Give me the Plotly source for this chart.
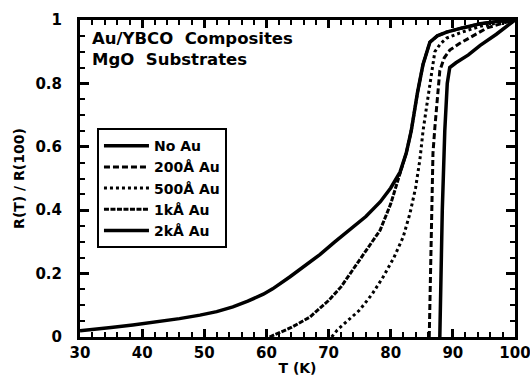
import plotly.graph_objects as go

# ---- data ----
no_au_T = [30, 32, 35, 38.5, 42, 46, 49.3, 52, 54.6, 57, 59.5, 61, 63.8, 66, 68.6, 71, 73.4, 76, 78.3, 80, 81.5, 82.5, 83.3, 84.3, 85.2, 86.3, 87.5, 89, 91.5, 94.4, 97, 100]
no_au_R = [0.02, 0.025, 0.03, 0.038, 0.047, 0.058, 0.069, 0.08, 0.095, 0.113, 0.135, 0.152, 0.19, 0.222, 0.26, 0.3, 0.337, 0.38, 0.426, 0.47, 0.52, 0.58, 0.65, 0.77, 0.86, 0.93, 0.95, 0.962, 0.975, 0.988, 0.995, 1.0]

au200_T = [86.2, 86.4, 86.6, 86.8, 87.1, 87.5, 87.9, 88.6, 89.5, 91, 92.8, 95.5, 98, 100]
au200_R = [0, 0.2, 0.45, 0.58, 0.66, 0.76, 0.84, 0.88, 0.905, 0.925, 0.946, 0.975, 0.99, 1.0]

au500_T = [70.5, 71.4, 73, 75, 77, 78.8, 80.5, 82, 83.1, 84, 84.7, 85.2, 85.8, 86.3, 87.1, 88, 89, 91.5, 94.4, 97, 100]
au500_R = [0, 0.022, 0.05, 0.085, 0.135, 0.19, 0.25, 0.315, 0.39, 0.47, 0.56, 0.65, 0.73, 0.80, 0.90, 0.925, 0.943, 0.962, 0.98, 0.99, 1.0]

au1k_T = [60.5, 62, 64, 67, 70, 72, 75, 78.3, 80, 81.5, 82.5, 83.3, 84.3, 85.2, 86.3, 87.5, 89, 91.5, 94.4, 97, 100]
au1k_R = [0, 0.012, 0.03, 0.063, 0.115, 0.158, 0.243, 0.337, 0.42, 0.52, 0.58, 0.65, 0.77, 0.86, 0.93, 0.95, 0.962, 0.975, 0.988, 0.995, 1.0]

au2k_T = [87.9, 88.1, 88.3, 88.7, 89.1, 89.5, 90.5, 92.5, 94.4, 97, 100]
au2k_R = [0, 0.2, 0.4, 0.65, 0.8, 0.85, 0.865, 0.89, 0.92, 0.955, 1.0]

x_ticks = [30, 40, 50, 60, 70, 80, 90, 100]
x_labels = ["30", "40", "50", "60", "70", "80", "90", "100"]
y_ticks = [0, 0.2, 0.4, 0.6, 0.8, 1.0]
y_labels = ["0", "0.2", "0.4", "0.6", "0.8", "1"]
x_minor_step = 2
y_minor_step = 0.05

FONT = "DejaVu Sans"
XR = [30, 100]
YR = [0, 1]

fig = go.Figure()
fig.add_trace(go.Scatter(x=no_au_T, y=no_au_R, mode="lines", name="No Au",
                         line=dict(color="black", width=3.5)))
fig.add_trace(go.Scatter(x=au200_T, y=au200_R, mode="lines", name="200Å Au",
                         line=dict(color="black", width=3, dash="6px,3px")))
fig.add_trace(go.Scatter(x=au500_T, y=au500_R, mode="lines", name="500Å Au",
                         line=dict(color="black", width=3, dash="dot")))
fig.add_trace(go.Scatter(x=au1k_T, y=au1k_R, mode="lines", name="1kÅ Au",
                         line=dict(color="black", width=3, dash="5px,1.5px")))
fig.add_trace(go.Scatter(x=au2k_T, y=au2k_R, mode="lines", name="2kÅ Au",
                         line=dict(color="black", width=3.5)))

tickfont = dict(family=FONT, size=15, color="black", weight="bold")

fig.update_layout(
    xaxis=dict(range=XR, tickmode="array", tickvals=x_ticks, ticktext=x_labels,
               showgrid=False, zeroline=False, showline=True, linecolor="black", linewidth=3,
               mirror="allticks", ticks="inside", ticklen=8, tickwidth=2.5, tickcolor="#000000",
               minor=dict(dtick=x_minor_step, tick0=x_ticks[0], ticks="inside", ticklen=5,
                          tickwidth=2, tickcolor="#000000", showgrid=False),
               tickfont=tickfont, ticklabeloverflow="allow", automargin=False,
               title=dict(text="T (K)", standoff=3,
                          font=dict(family=FONT, size=14, color="black", weight="bold"))),
    yaxis=dict(range=YR, tickmode="array", tickvals=y_ticks, ticktext=y_labels,
               showgrid=False, zeroline=False, showline=True, linecolor="black", linewidth=3,
               mirror="allticks", ticks="inside", ticklen=9, tickwidth=2.5, tickcolor="#000000",
               minor=dict(dtick=y_minor_step, tick0=y_ticks[0], ticks="inside", ticklen=5,
                          tickwidth=2, tickcolor="#000000", showgrid=False),
               tickfont=tickfont, ticklabelstandoff=12, automargin=False,
               title=dict(text="R(T) / R(100)", standoff=8,
                          font=dict(family=FONT, size=14, color="black", weight="bold"))),
)

fig.add_annotation(xref="paper", yref="paper", x=0.022, y=0.978, xanchor="left", yanchor="top",
                   text="Au/YBCO  Composites<br>MgO  Substrates", showarrow=False, align="left",
                   font=dict(family=FONT, size=16.5, color="black", weight="bold"))

fig.update_layout(
    width=530, height=377,
    margin=dict(l=80, r=15, t=20, b=40),
    paper_bgcolor="white", plot_bgcolor="white",
    showlegend=True,
    legend=dict(x=0.039, y=0.659, xanchor="left", yanchor="top",
                bordercolor="black", borderwidth=2, bgcolor="white",
                font=dict(family=FONT, size=14, color="black", weight="bold"),
                tracegroupgap=0, itemwidth=45),
)

fig.write_html("out.html")
